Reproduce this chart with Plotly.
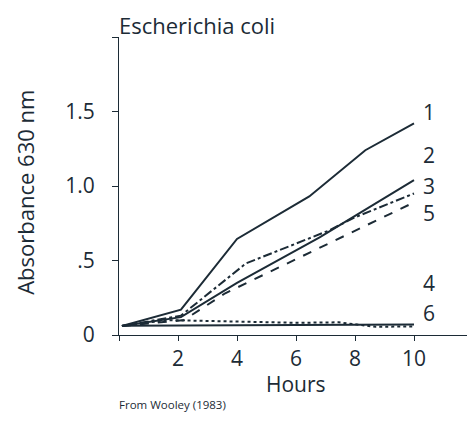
import plotly.graph_objects as go

# Hours and absorbance values
hours_1 = [0.1, 2.1, 4.0, 6.45, 8.35, 10.0]
abs_1 = [0.06, 0.17, 0.645, 0.93, 1.24, 1.42]

hours_sol = [0.1, 2.1, 4.0, 6.8, 10.0]
abs_sol = [0.06, 0.12, 0.35, 0.655, 1.04]

hours_dd = [0.1, 2.1, 4.3, 7.1, 8.0, 10.0]
abs_dd = [0.06, 0.13, 0.48, 0.70, 0.79, 0.95]

hours_da = [0.1, 2.2, 3.6, 10.0]
abs_da = [0.06, 0.10, 0.28, 0.89]

hours_flat = [0.1, 10.0]
abs_flat = [0.062, 0.071]

hours_dot = [0.1, 1.6, 6.0, 7.45, 8.7, 10.0]
abs_dot = [0.06, 0.10, 0.082, 0.085, 0.055, 0.058]

label_text = ["1", "2", "3", "5", "4", "6"]
label_y = [1.50, 1.21, 1.00, 0.82, 0.35, 0.15]

x_ticks = [0, 2, 4, 6, 8, 10, 12]
x_tick_text = ["", "2", "4", "6", "8", "10", ""]
y_ticks = [0, 0.5, 1.0, 1.5, 2.0]
y_tick_text = ["0", ".5", "1.0", "1.5", ""]

ink = "#1c2b36"
font = "Open Sans"
fs = 21

fig = go.Figure()
series = [
    (hours_1, abs_1, "solid"),
    (hours_sol, abs_sol, "solid"),
    (hours_dd, abs_dd, "dashdot"),
    (hours_da, abs_da, "dash"),
    (hours_flat, abs_flat, "solid"),
    (hours_dot, abs_dot, "dot"),
]
for xs, ys, dash in series:
    fig.add_trace(go.Scatter(x=xs, y=ys, mode="lines",
                             line=dict(color=ink, width=2, dash=dash),
                             showlegend=False, hoverinfo="skip"))

for t, yv in zip(label_text, label_y):
    fig.add_annotation(x=10.5, y=yv, text=t, showarrow=False,
                       font=dict(family=font, size=fs, color=ink),
                       xanchor="center", yanchor="middle")

fig.add_annotation(xref="paper", yref="paper", x=0, y=1.0973,
                   xshift=-2,
                   text="Escherichia coli", showarrow=False,
                   xanchor="left", yanchor="top",
                   font=dict(family=font, size=22, color=ink))
fig.add_annotation(xref="paper", yref="paper", x=0.5, y=-0.163,
                   text="Hours", showarrow=False,
                   xanchor="center", yanchor="middle",
                   font=dict(family=font, size=fs, color=ink))
fig.add_annotation(xref="paper", yref="paper", x=-0.266, y=0.48,
                   text="Absorbance 630 nm", showarrow=False,
                   textangle=-90, xanchor="center", yanchor="middle",
                   font=dict(family=font, size=22, color=ink))
fig.add_annotation(xref="paper", yref="paper", x=0, y=-0.20,
                   xshift=-2,
                   text="From Wooley (1983)", showarrow=False,
                   xanchor="left", yanchor="top",
                   font=dict(family=font, size=11.5, color=ink))

fig.update_xaxes(range=[0, 12], tickvals=x_ticks, ticktext=x_tick_text,
                 ticks="outside", ticklen=5, tickcolor=ink, tickwidth=1,
                 showline=True, linecolor=ink, linewidth=1,
                 showgrid=False, zeroline=False,
                 tickfont=dict(family=font, size=fs, color=ink))
fig.update_yaxes(range=[0, 2.0], tickvals=y_ticks, ticktext=y_tick_text,
                 ticks="outside", ticklen=6, tickcolor=ink, tickwidth=1,
                 ticklabelstandoff=13,
                 showline=True, linecolor=ink, linewidth=1,
                 showgrid=False, zeroline=False,
                 tickfont=dict(family=font, size=fs, color=ink))

# the page body adds an 8px offset, so the figure is 8px smaller
fig.update_layout(width=467, height=418,
                  margin=dict(l=111, r=2, t=29, b=91, autoexpand=False),
                  paper_bgcolor="white", plot_bgcolor="white")

fig.write_html("out.html")
